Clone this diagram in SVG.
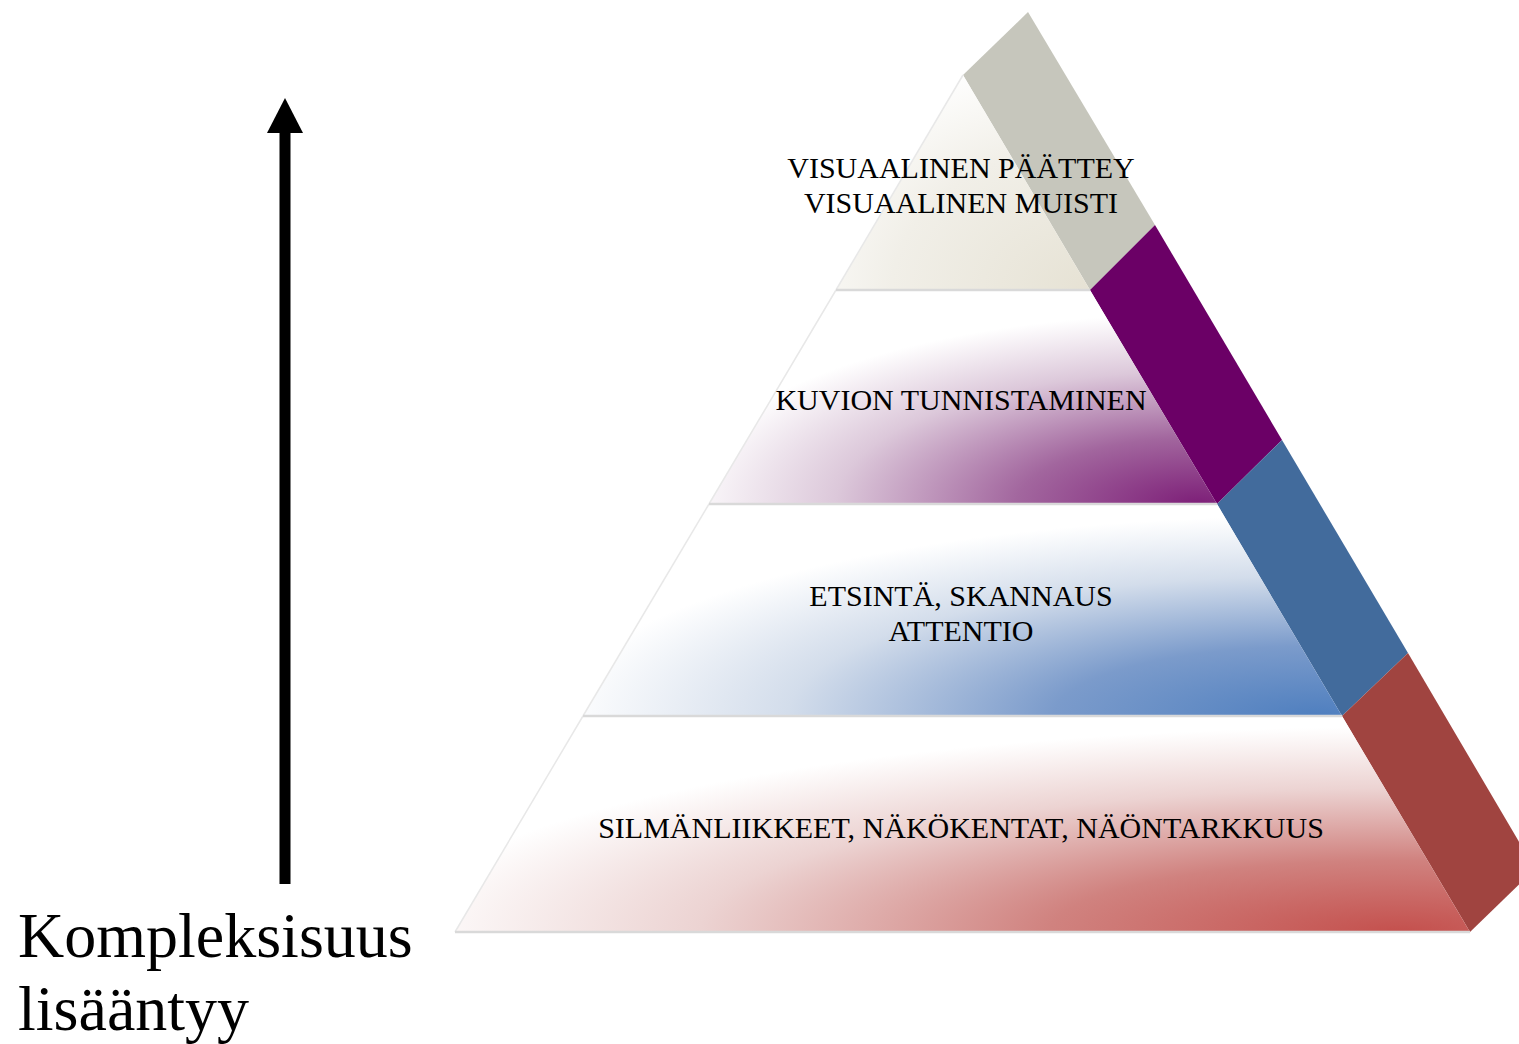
<svg xmlns="http://www.w3.org/2000/svg" width="1519" height="1044" viewBox="0 0 1519 1044">
<style>
.lbl{font-family:"Liberation Serif","Times New Roman",serif;font-size:30px;fill:#000;text-anchor:middle}
.big{font-family:"Liberation Serif","Times New Roman",serif;font-size:64px;fill:#000}
.sep{stroke:#d9d9d9;stroke-width:2.5;fill:none}
.edge{stroke:#e8e8e8;stroke-width:1.5;fill:none}
</style>
<defs>
<radialGradient id="g1" gradientUnits="userSpaceOnUse" cx="1090" cy="290" r="1" gradientTransform="translate(1090 290) scale(330 240) translate(-1090 -290)">
<stop offset="0" stop-color="#e6e2d4"/><stop offset="0.6" stop-color="#f1efe8"/><stop offset="1" stop-color="#ffffff"/>
</radialGradient>
<radialGradient id="g2" gradientUnits="userSpaceOnUse" cx="1200" cy="504" r="1" gradientTransform="translate(1200 504) scale(520 190) translate(-1200 -504)">
<stop offset="0" stop-color="#7d1f78"/><stop offset="0.35" stop-color="#a2669e"/><stop offset="0.7" stop-color="#dcc8da"/><stop offset="1" stop-color="#ffffff"/>
</radialGradient>
<radialGradient id="g3" gradientUnits="userSpaceOnUse" cx="1320" cy="716" r="1" gradientTransform="translate(1320 716) scale(760 200) translate(-1320 -716)">
<stop offset="0" stop-color="#4f7fbf"/><stop offset="0.35" stop-color="#7b9bcb"/><stop offset="0.7" stop-color="#d3ddeb"/><stop offset="1" stop-color="#ffffff"/>
</radialGradient>
<radialGradient id="g4" gradientUnits="userSpaceOnUse" cx="1400" cy="932" r="1" gradientTransform="translate(1400 932) scale(1000 205) translate(-1400 -932)">
<stop offset="0" stop-color="#c4504d"/><stop offset="0.35" stop-color="#d0827f"/><stop offset="0.7" stop-color="#ecd3d2"/><stop offset="1" stop-color="#ffffff"/>
</radialGradient>
</defs>

<g id="side-strip">
<polygon points="963,75 1028,12 1155,225 1090,290" fill="#c6c6bc"/>
<polygon points="1090,290 1155,225 1282,440 1217,504" fill="#6b0066"/>
<polygon points="1217,504 1282,440 1408,653 1342,716" fill="#426b9c"/>
<polygon points="1342,716 1408,653 1535,869 1470,932" fill="#a04440"/>
</g>

<g id="layer-top">
<polygon points="963,75 1090,290 836,290" fill="url(#g1)"/>
<line class="edge" x1="963" y1="75" x2="836" y2="290"/>
</g>
<g id="layer-2">
<polygon points="836,290 1090,290 1217,504 709,504" fill="url(#g2)"/>
<line class="edge" x1="836" y1="290" x2="709" y2="504"/>
</g>
<g id="layer-3">
<polygon points="709,504 1217,504 1342,716 583,716" fill="url(#g3)"/>
<line class="edge" x1="709" y1="504" x2="583" y2="716"/>
</g>
<g id="layer-4">
<polygon points="583,716 1342,716 1470,932 455,932" fill="url(#g4)"/>
<line class="edge" x1="583" y1="716" x2="455" y2="932"/>
</g>

<g id="separators">
<line class="sep" x1="836" y1="290" x2="1090" y2="290"/>
<line class="sep" x1="709" y1="504" x2="1217" y2="504"/>
<line class="sep" x1="583" y1="716" x2="1342" y2="716"/>
<line class="sep" x1="455" y1="932" x2="1470" y2="932"/>
</g>

<g id="labels">
<text class="lbl" x="961" y="178">VISUAALINEN PÄÄTTEY</text>
<text class="lbl" x="961" y="213">VISUAALINEN MUISTI</text>
<text class="lbl" x="961" y="410">KUVION TUNNISTAMINEN</text>
<text class="lbl" x="961" y="606">ETSINTÄ, SKANNAUS</text>
<text class="lbl" x="961" y="641">ATTENTIO</text>
<text class="lbl" x="961" y="838">SILMÄNLIIKKEET, NÄKÖKENTAT, NÄÖNTARKKUUS</text>
</g>

<g id="connectors">
<rect x="279.5" y="130" width="11" height="754" fill="#000"/>
<polygon points="285,98 303,133 267,133" fill="#000"/>
</g>

<g id="axis-label">
<text class="big" x="18" y="957">Kompleksisuus</text>
<text class="big" x="18" y="1030">lisääntyy</text>
</g>
</svg>
